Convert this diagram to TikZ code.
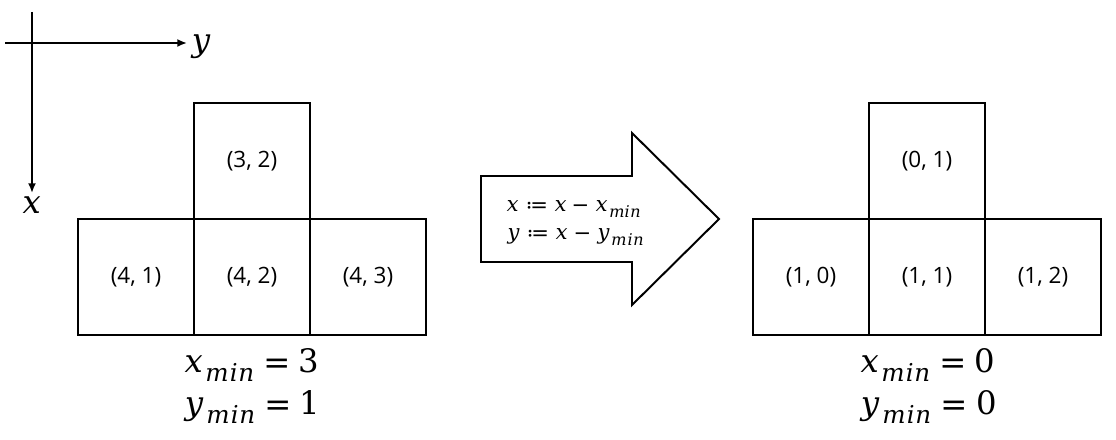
\documentclass[tikz,border=0pt]{standalone}
\usepackage{amsmath,mathtools}
\usepackage{fontspec}
\usepackage{unicode-math}
\setsansfont{Open Sans}
\setmathfont{DejaVu Math TeX Gyre}
\DeclareMathSizes{23}{23}{17.5}{13}
\DeclareMathSizes{15}{15}{11.5}{9}
\usetikzlibrary{positioning,arrows.meta}
\tikzset{
  >={Latex[length=2.4mm,width=2mm]},
  cell/.style={draw,line width=1.4pt,minimum size=29mm,inner sep=0pt,
    outer sep=0pt,font=\sffamily\fontsize{16}{19}\selectfont},
  axis/.style={->,line width=1.4pt},
  axislbl/.style={font=\fontsize{23}{27}\selectfont,inner sep=1pt},
  minlbl/.style={font=\fontsize{23}{27}\selectfont,inner sep=0pt,anchor=base},
  shiftarrow/.style={line width=1.4pt,line join=miter},
  shiftlbl/.style={font=\fontsize{15}{19}\selectfont,inner sep=0pt,anchor=base west},
}
\begin{document}
\begin{tikzpicture}[x=0.25mm,y=-0.25mm]
  \useasboundingbox (0,0) rectangle (1116,440);
  % axes
  \coordinate (yfrom) at (5,43);
  \coordinate (yto) at (187,43);
  \coordinate (xfrom) at (32,12);
  \coordinate (xto) at (32,193);
  \draw[axis] (yfrom) -- (yto);
  \draw[axis] (xfrom) -- (xto);
  \node[axislbl,right=0pt of yto,yshift=-1mm] (ylbl) {$y$};
  \node[axislbl,below=1.5pt of xto] (xlbl) {$x$};
  % before shift
  \node[cell] (b41) at (136,277) {(4, 1)};
  \node[cell,right=0pt of b41] (b42) {(4, 2)};
  \node[cell,right=0pt of b42] (b43) {(4, 3)};
  \node[cell,above=0pt of b42] (b32) {(3, 2)};
  \node[minlbl] (bxmin) at (251,373) {$x_{min} = 3$};
  \node[minlbl] (bymin) at (251,415) {$y_{min} = 1$};
  % shift arrow
  \draw[shiftarrow] (481,176) -- (632,176) -- (632,133) -- (719,219)
    -- (632,305) -- (632,262) -- (481,262) -- cycle;
  \node[shiftlbl] (xrule) at (505,212) {$x \coloneq x - x_{min}$};
  \node[shiftlbl] (yrule) at (505,240) {$y \coloneq x - y_{min}$};
  % after shift
  \node[cell] (a10) at (811,277) {(1, 0)};
  \node[cell,right=0pt of a10] (a11) {(1, 1)};
  \node[cell,right=0pt of a11] (a12) {(1, 2)};
  \node[cell,above=0pt of a11] (a01) {(0, 1)};
  \node[minlbl] (axmin) at (927,373) {$x_{min} = 0$};
  \node[minlbl] (aymin) at (927,415) {$y_{min} = 0$};
\end{tikzpicture}
\end{document}
